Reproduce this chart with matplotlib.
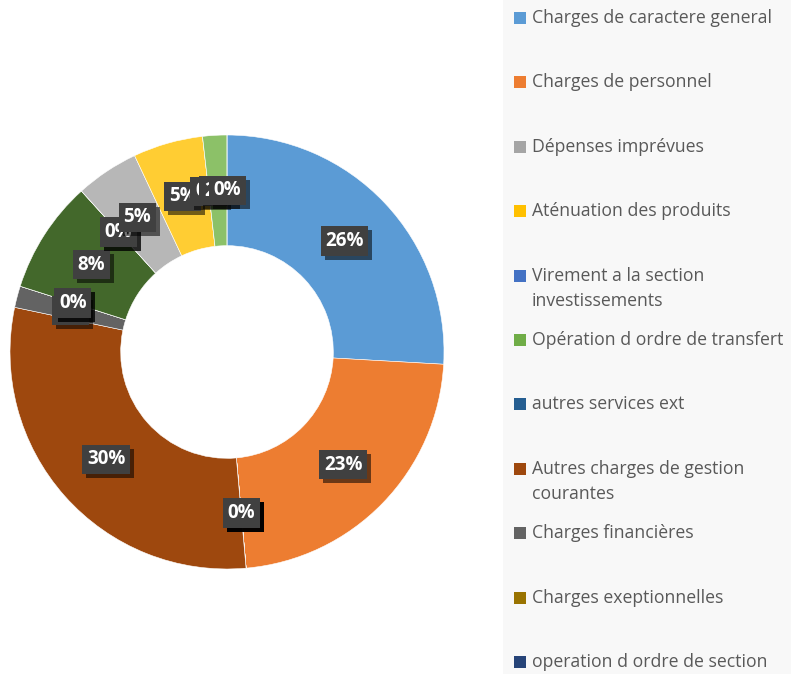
import matplotlib.pyplot as plt
import matplotlib.transforms as mtransforms
import numpy as np

# legend entries (only the first 11 points fit in the legend box)
categories = ['Charges de caractere general', 'Charges de personnel', 'Dépenses imprévues',
              'Aténuation des produits', 'Virement a la section\ninvestissements',
              'Opération d ordre de transfert', 'autres services ext',
              'Autres charges de gestion\ncourantes', 'Charges financières',
              'Charges exeptionnelles', 'operation d ordre de section']

# share of each point, clockwise from 12 o'clock (19 points in the series)
values = [25.9, 22.7, 0, 0, 0, 0, 0, 29.7, 1.6, 0, 0, 8.4, 0, 0, 4.7, 5.2, 0, 1.8, 0]

colors = ['#5B9BD5', '#ED7D31', '#A5A5A5', '#FFC000', '#4472C4', '#70AD47',
          '#255E91', '#9E480E', '#636363', '#997300', '#264478', '#43682B',
          '#7CAFDD', '#F1975A', '#B7B7B7', '#FFCD33', '#698ED0', '#8CC168', '#327DC2']

W, H = 791, 674
fig = plt.figure(figsize=(W / 100, H / 100), dpi=100)
fig.patch.set_facecolor('white')

# legend panel (light gray box on the right)
lax = fig.add_axes([0, 0, 1, 1])
lax.set_xlim(0, W)
lax.set_ylim(H, 0)
lax.axis('off')
lax.add_patch(plt.Rectangle((503, 0), W - 503, H, facecolor='#F8F8F8', edgecolor='none'))

for i, name in enumerate(categories):
    y = 18 + i * 64.4
    lax.add_patch(plt.Rectangle((514, y - 6), 12, 12, facecolor=colors[i], edgecolor='none'))
    for k, line in enumerate(name.split('\n')):
        lax.text(532, y + k * 25, line, fontsize=12.7, family='Open Sans',
                 color='#595959', va='center', ha='left')

# donut
cx, cy, R = 227, 352, 217
ax = fig.add_axes([(cx - R) / W, (H - cy - R) / H, 2 * R / W, 2 * R / H])
width = 0.51
wedges, _ = ax.pie(values, colors=colors[:len(values)], startangle=90, counterclock=False,
                   radius=1, wedgeprops=dict(width=width, edgecolor='white', linewidth=0.4))
ax.set_xlim(-1, 1)
ax.set_ylim(-1, 1)
ax.set_aspect('equal')
ax.axis('off')

total = sum(values)
rmid = 1 - width / 2
shadow_tr = mtransforms.offset_copy(ax.transData, fig=fig, x=4, y=-4, units='dots')
for w, v in zip(wedges, values):
    ang = np.deg2rad((w.theta1 + w.theta2) / 2)
    x, y = rmid * np.cos(ang), rmid * np.sin(ang)
    txt = '{:.0f}%'.format(100 * v / total)
    ax.text(x, y, txt, transform=shadow_tr, ha='center', va='center', fontsize=13.5,
            fontweight='bold', family='Open Sans', color='none',
            bbox=dict(boxstyle='square,pad=0.25', facecolor='black', alpha=0.55, edgecolor='none'))
    ax.text(x, y, txt, ha='center', va='center', fontsize=13.5, fontweight='bold',
            family='Open Sans', color='white',
            bbox=dict(boxstyle='square,pad=0.25', facecolor='#404040', edgecolor='none'))

fig.savefig('out.png', dpi=100)
